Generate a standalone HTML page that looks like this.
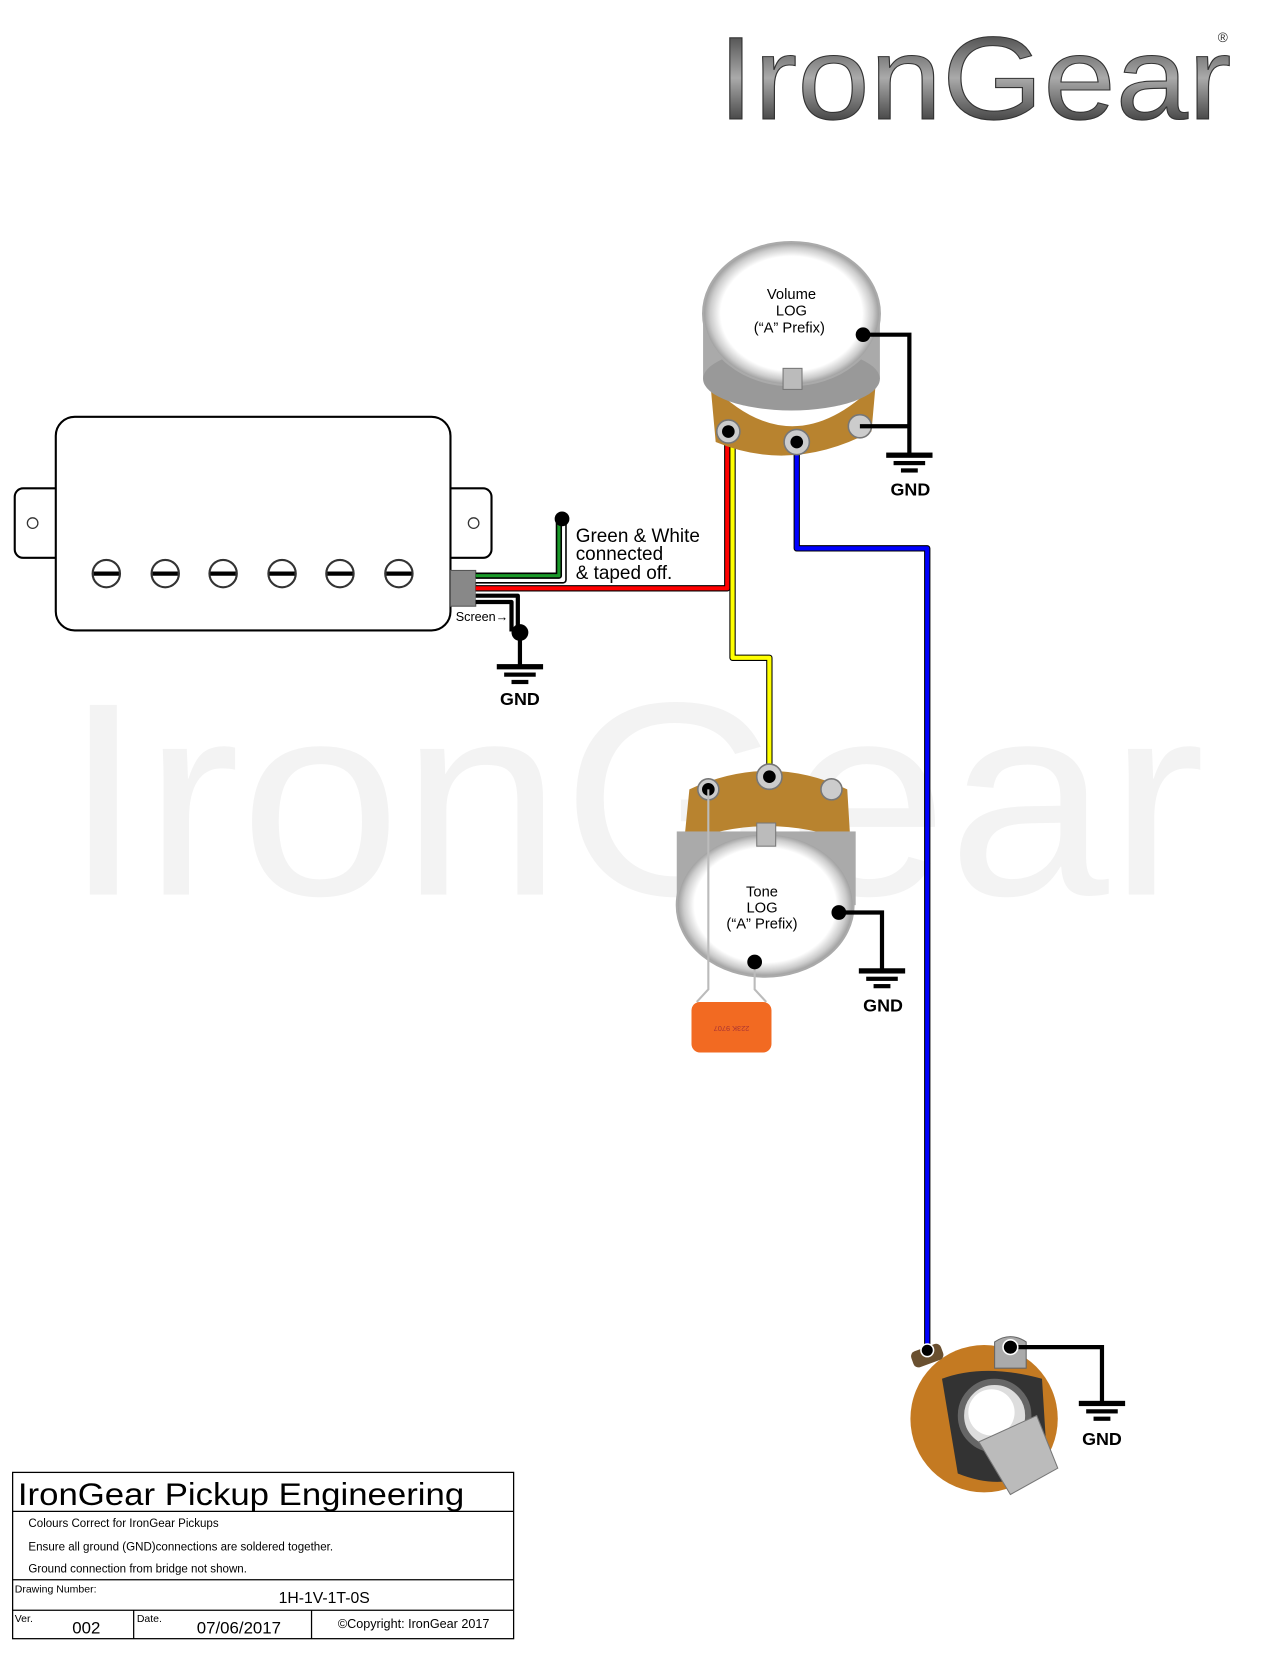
<!DOCTYPE html>
<html><head><meta charset="utf-8"><style>html,body{margin:0;padding:0;background:#fff}svg{display:block}text{font-family:"Liberation Sans",sans-serif}</style></head><body>
<svg width="1263" height="1657" viewBox="0 0 1200 1574.4" preserveAspectRatio="none" xmlns="http://www.w3.org/2000/svg">
<defs>
<linearGradient id="lg" x1="0" y1="0" x2="0" y2="1"><stop offset="0" stop-color="#222"/><stop offset="0.5" stop-color="#aaa"/><stop offset="1" stop-color="#111"/></linearGradient>
<radialGradient id="pot" cx="0.5" cy="0.5" r="0.5"><stop offset="0.8" stop-color="#fff"/><stop offset="0.92" stop-color="#ccc"/><stop offset="1" stop-color="#999"/></radialGradient>
</defs>
<!-- watermark -->
<text x="60" y="850" font-size="262" fill="#f3f3f3" textLength="1085" lengthAdjust="spacingAndGlyphs" font-weight="100">IronGear</text>
<!-- logo -->
<text x="682" y="113" font-size="112" fill="url(#lg)" stroke="#333" stroke-width="1" textLength="488" lengthAdjust="spacingAndGlyphs">IronGear</text>
<text x="1157" y="40" font-size="13" fill="#333">®</text>

<!-- humbucker -->
<g stroke="#000" stroke-width="2" fill="#fff">
<rect x="14" y="464" width="50" height="66" rx="8"/>
<rect x="417" y="464" width="50" height="66" rx="8"/>
<rect x="53" y="396" width="375" height="203" rx="18"/>
<line x1="53" y1="465" x2="53" y2="529" stroke="#fff" stroke-width="0"/>
</g>
<circle cx="31" cy="497" r="5" fill="#fff" stroke="#333" stroke-width="1.2"/>
<circle cx="450" cy="497" r="5" fill="#fff" stroke="#333" stroke-width="1.2"/>
<g fill="#fff" stroke="#333" stroke-width="2">
<circle cx="101" cy="545" r="13"/><circle cx="157" cy="545" r="13"/><circle cx="212" cy="545" r="13"/><circle cx="268" cy="545" r="13"/><circle cx="323" cy="545" r="13"/><circle cx="379" cy="545" r="13"/>
</g>
<g stroke="#000" stroke-width="4">
<line x1="89" y1="545" x2="113" y2="545"/><line x1="145" y1="545" x2="169" y2="545"/><line x1="200" y1="545" x2="224" y2="545"/><line x1="256" y1="545" x2="280" y2="545"/><line x1="311" y1="545" x2="335" y2="545"/><line x1="367" y1="545" x2="391" y2="545"/>
</g>
<rect x="428" y="542" width="24" height="34" fill="#888" stroke="#555"/>

<!-- wires pickup -->
<g fill="none" stroke-linejoin="round">
<path d="M452 551 H535 V495" stroke="#000" stroke-width="7"/>
<path d="M452 551 H535 V495" stroke="#fff" stroke-width="4"/>
<path d="M452 547 H531 V495" stroke="#000" stroke-width="6"/>
<path d="M452 547 H531 V495" stroke="#1a9a2a" stroke-width="3"/>
<path d="M452 559 H691 V410" stroke="#000" stroke-width="6"/>
<path d="M452 559 H691 V410" stroke="#f00" stroke-width="4"/>
<path d="M696 410 V625 H731 V738" stroke="#000" stroke-width="6"/>
<path d="M696 410 V625 H731 V738" stroke="#ff0" stroke-width="4"/>
<path d="M757 420 V521 H881 V1283" stroke="#000" stroke-width="6"/>
<path d="M757 420 V521 H881 V1283" stroke="#00f" stroke-width="4"/>
<path d="M452 566 H492 V600" stroke="#fff" stroke-width="8"/>
<path d="M452 566 H492 V600" stroke="#000" stroke-width="4"/>
<path d="M452 572 H486 V600" stroke="#000" stroke-width="4"/>
<path d="M494 600 V633" stroke="#000" stroke-width="4"/>
</g>
<circle cx="534" cy="493" r="7" fill="#000"/>
<circle cx="494" cy="601" r="8" fill="#000"/>
<text x="433" y="590" font-size="12">Screen→</text>
<text font-size="18" x="547" y="515">Green &amp; White</text>
<text font-size="18" x="547" y="532">connected</text>
<text font-size="18" x="547" y="550">&amp; taped off.</text>

<!-- GND symbols -->
<g fill="#000">
<rect x="472" y="631" width="44" height="5"/><rect x="479" y="639" width="30" height="4"/><rect x="486" y="646" width="16" height="4"/>
<rect x="842" y="430" width="44" height="5"/><rect x="849" y="438" width="30" height="4"/><rect x="856" y="445" width="16" height="4"/>
<rect x="816" y="920" width="44" height="5"/><rect x="823" y="928" width="30" height="4"/><rect x="830" y="935" width="16" height="4"/>
<rect x="1025" y="1331" width="44" height="5"/><rect x="1032" y="1339" width="30" height="4"/><rect x="1039" y="1346" width="16" height="4"/>
</g>
<g font-size="17" font-weight="bold" text-anchor="middle">
<text x="494" y="670">GND</text><text x="865" y="471">GND</text><text x="839" y="961">GND</text><text x="1047" y="1373">GND</text>
</g>

<!-- volume pot -->
<path d="M675 365 Q752 445 832 365 L828 410 Q752 450 680 420 Z" fill="#b8832f"/>
<rect x="668" y="300" width="168" height="60" fill="#aaa"/>
<ellipse cx="752" cy="360" rx="84" ry="30" fill="#999"/>
<ellipse cx="752" cy="298" rx="84" ry="68" fill="url(#pot)" stroke="#aaa" stroke-width="2"/>
<rect x="744" y="350" width="18" height="20" fill="#bbb" stroke="#777"/>
<g fill="#ccc" stroke="#777" stroke-width="1.5">
<circle cx="692" cy="410" r="11"/><circle cx="757" cy="420" r="12"/><circle cx="817" cy="405" r="11"/>
</g>
<circle cx="692" cy="410" r="6" fill="#000"/><circle cx="757" cy="420" r="6" fill="#000"/>
<path d="M820 318 H864 V432 M817 405 H864" fill="none" stroke="#000" stroke-width="4"/>
<circle cx="820" cy="318" r="7" fill="#000"/>
<g font-size="14" text-anchor="middle"><text x="752" y="284">Volume</text><text x="752" y="300">LOG</text><text x="750" y="316">(“A” Prefix)</text></g>

<!-- tone pot -->
<path d="M655 750 Q730 715 805 750 L808 800 Q730 770 650 800 Z" fill="#b8832f"/>
<rect x="643" y="790" width="170" height="70" fill="#aaa"/>
<ellipse cx="727" cy="860" rx="84" ry="68" fill="url(#pot)" stroke="#aaa" stroke-width="2"/>
<rect x="719" y="782" width="18" height="22" fill="#bbb" stroke="#777"/>
<g fill="#ccc" stroke="#777" stroke-width="1.5">
<circle cx="673" cy="750" r="10"/><circle cx="731" cy="738" r="12"/><circle cx="790" cy="750" r="10"/>
</g>
<circle cx="673" cy="750" r="6" fill="#000"/><circle cx="731" cy="738" r="6" fill="#000"/>
<path d="M673 750 V940 L662 952 M717 914 V940 L728 952" fill="none" stroke="#bbb" stroke-width="2"/>
<rect x="657" y="952" width="76" height="48" rx="8" fill="#f26a22"/>
<text x="695" y="985" font-size="7" fill="#a33" text-anchor="middle" transform="rotate(180 695 980)">223K 9707</text>
<path d="M797 867 H838 V922" fill="none" stroke="#000" stroke-width="4"/>
<circle cx="797" cy="867" r="7" fill="#000"/><circle cx="717" cy="914" r="7" fill="#000"/>
<g font-size="14" text-anchor="middle"><text x="724" y="852">Tone</text><text x="724" y="867">LOG</text><text x="724" y="882">(“A” Prefix)</text></g>

<!-- jack -->
<circle cx="935" cy="1348" r="70" fill="#c47a22"/>
<rect x="866" y="1280" width="30" height="16" rx="5" fill="#6a5030" transform="rotate(-20 881 1288)"/>
<path d="M945 1275 Q960 1265 975 1275 L975 1300 L945 1300 Z" fill="#aaa" stroke="#666"/>
<path d="M895 1310 Q935 1295 990 1310 L995 1390 Q960 1420 910 1400 Z" fill="#333"/>
<circle cx="945" cy="1345" r="32" fill="#ddd" stroke="#666" stroke-width="6"/>
<circle cx="942" cy="1342" r="22" fill="#fff"/>
<path d="M930 1370 L985 1345 L1005 1395 L960 1420 Z" fill="#bbb" stroke="#777"/>
<circle cx="881" cy="1283" r="6" fill="#000" stroke="#fff" stroke-width="1.5"/>
<path d="M960 1280 H1047 V1333" fill="none" stroke="#000" stroke-width="4"/>
<circle cx="960" cy="1280" r="7" fill="#000" stroke="#fff" stroke-width="1.5"/>

<!-- title block -->
<g fill="none" stroke="#000" stroke-width="1.2">
<rect x="12" y="1399" width="476" height="158"/>
<line x1="12" y1="1436" x2="488" y2="1436"/><line x1="12" y1="1501" x2="488" y2="1501"/><line x1="12" y1="1530" x2="488" y2="1530"/>
<line x1="127" y1="1530" x2="127" y2="1557"/><line x1="296" y1="1530" x2="296" y2="1557"/>
</g>
<text x="17" y="1430" font-size="30" textLength="424" lengthAdjust="spacingAndGlyphs">IronGear Pickup Engineering</text>
<g font-size="11"><text x="27" y="1451">Colours Correct for IronGear Pickups</text><text x="27" y="1473">Ensure all ground (GND)connections are soldered together.</text><text x="27" y="1494">Ground connection from bridge not shown.</text></g>
<text x="14" y="1513" font-size="10">Drawing Number:</text>
<text x="308" y="1523" font-size="15" text-anchor="middle">1H-1V-1T-0S</text>
<text x="14" y="1541" font-size="10">Ver.</text>
<text x="82" y="1552" font-size="16" text-anchor="middle">002</text>
<text x="130" y="1541" font-size="10">Date.</text>
<text x="227" y="1552" font-size="16" text-anchor="middle">07/06/2017</text>
<text x="393" y="1547" font-size="12" text-anchor="middle">©Copyright: IronGear 2017</text>
</svg>
</body></html>
